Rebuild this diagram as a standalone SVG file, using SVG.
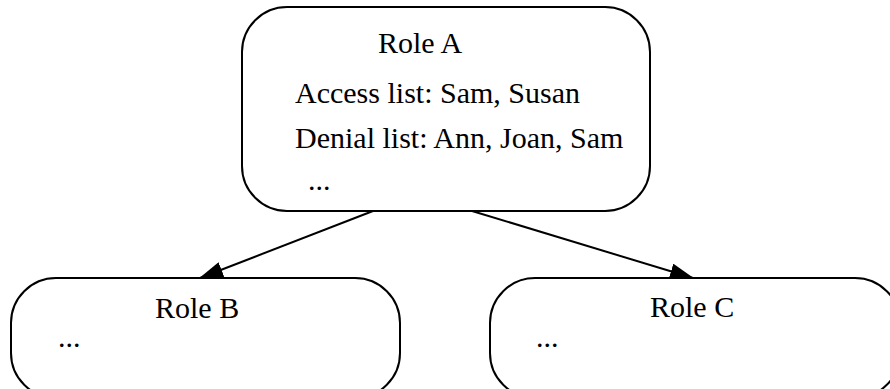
<svg xmlns="http://www.w3.org/2000/svg" width="890" height="389" viewBox="0 0 890 389">
  <style>
    .box { fill: #fff; stroke: #000; stroke-width: 2; }
    .lbl { font-family: "Liberation Serif", "Times New Roman", serif; font-size: 30px; fill: #000; }
    .edge { stroke: #000; stroke-width: 2; fill: none; marker-end: url(#arrow); }
  </style>
  <defs>
    <marker id="arrow" markerWidth="24" markerHeight="16" refX="23" refY="8" orient="auto" markerUnits="userSpaceOnUse">
      <path d="M0,0 L24,8 L0,16 Z" fill="#000"/>
    </marker>
  </defs>
  <rect width="890" height="389" fill="#fff"/>

  <g id="connectors">
    <line class="edge" x1="373" y1="211" x2="200" y2="278"/>
    <line class="edge" x1="472" y1="211" x2="693" y2="278"/>
  </g>

  <g id="roleA">
    <rect class="box" x="242" y="7" width="408" height="204" rx="45" ry="45"/>
    <text class="lbl" x="378" y="53">Role A</text>
    <text class="lbl" x="295" y="103">Access list: Sam, Susan</text>
    <text class="lbl" x="295" y="148">Denial list: Ann, Joan, Sam</text>
    <text class="lbl" x="308" y="190">...</text>
  </g>

  <g id="roleB">
    <rect class="box" x="11" y="278" width="389" height="120" rx="45" ry="45"/>
    <text class="lbl" x="155" y="318">Role B</text>
    <text class="lbl" x="58" y="347">...</text>
  </g>

  <g id="roleC">
    <rect class="box" x="490" y="278" width="410" height="120" rx="45" ry="45"/>
    <text class="lbl" x="650" y="317">Role C</text>
    <text class="lbl" x="536" y="347">...</text>
  </g>
</svg>
